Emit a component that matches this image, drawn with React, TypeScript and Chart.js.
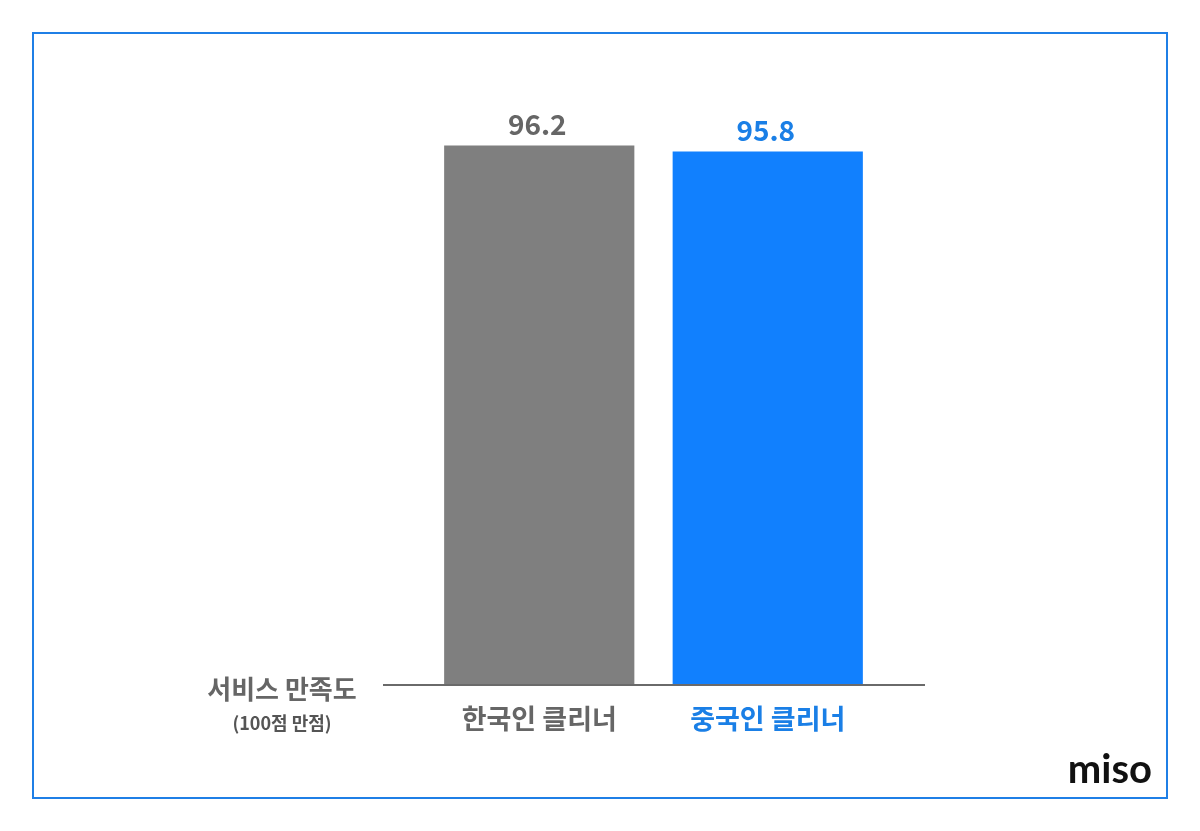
import React, { useEffect, useRef } from "react";
import { Chart, registerables } from "chart.js";

Chart.register(...registerables);

const categories = ["한국인 클리너", "중국인 클리너"];
const scores = [96.2, 95.8];
const axisMin = 60;
const axisMax = 100;
const axisTitle = "서비스 만족도";
const axisSubtitle = "(100점 만점)";
const brand = "miso";

const barColors = ["#7f7f7f", "#1180fe"];
const textColors = ["#666666", "#1a7fe6"];
const FONT = "'Noto Sans CJK KR', 'Noto Sans', sans-serif";

const valueLabelPlugin = {
  id: "valueLabels",
  afterDatasetsDraw(chart: any) {
    const { ctx } = chart;
    const meta = chart.getDatasetMeta(0);
    ctx.save();
    ctx.font = `bold 28px ${FONT}`;
    ctx.textAlign = "center";
    ctx.textBaseline = "bottom";
    meta.data.forEach((bar: any, i: number) => {
      ctx.fillStyle = textColors[i];
      ctx.fillText(String(scores[i]), bar.x - 2, bar.y - 7);
    });
    ctx.restore();
  },
};

const baselinePlugin = {
  id: "baseline",
  afterDatasetsDraw(chart: any) {
    const { ctx, chartArea, scales } = chart;
    const y = scales.y.getPixelForValue(axisMin);
    ctx.save();
    ctx.strokeStyle = "#6a6a6a";
    ctx.lineWidth = 2;
    ctx.beginPath();
    ctx.moveTo(chartArea.left - 42, y);
    ctx.lineTo(chartArea.right + 43, y);
    ctx.stroke();
    ctx.restore();
  },
};

export default function App() {
  const canvasRef = useRef<HTMLCanvasElement | null>(null);

  useEffect(() => {
    if (!canvasRef.current) return;
    const chart = new Chart(canvasRef.current, {
      type: "bar",
      data: {
        labels: categories,
        datasets: [
          {
            data: scores,
            backgroundColor: barColors,
            borderWidth: 0,
            barPercentage: 0.9,
            categoryPercentage: 0.925,
          },
        ],
      },
      options: {
        responsive: false,
        animation: false,
        devicePixelRatio: 1,
        layout: { padding: { left: 425, right: 318, top: 89, bottom: 0 } },
        plugins: { legend: { display: false }, tooltip: { enabled: false } },
        scales: {
          x: {
            grid: { display: false, drawTicks: false },
            border: { display: false },
            ticks: {
              padding: 18,
              color: (c: any) => textColors[c.index] || "#666",
              font: { family: FONT, size: 27, weight: "bold" },
            },
            afterFit: (scale: any) => {
              scale.height = 146;
            },
          },
          y: {
            display: false,
            min: axisMin,
            max: axisMax,
          },
        },
      },
      plugins: [baselinePlugin, valueLabelPlugin],
    });
    return () => chart.destroy();
  }, []);

  return (
    <div
      style={{
        position: "absolute",
        left: 0,
        top: 0,
        width: 1200,
        height: 831,
        background: "#ffffff",
        fontFamily: FONT,
      }}
    >
      <div
        style={{
          position: "absolute",
          left: 32,
          top: 32,
          width: 1136,
          height: 767,
          boxSizing: "border-box",
          border: "2px solid #1f7fe6",
        }}
      />
      <canvas ref={canvasRef} width={1200} height={831} style={{ position: "absolute", left: 0, top: 0 }} />
      <div
        style={{
          position: "absolute",
          left: 160,
          width: 244,
          top: 670,
          textAlign: "center",
          color: "#666666",
          fontWeight: 700,
          fontSize: 26,
          lineHeight: "36px",
        }}
      >
        {axisTitle}
      </div>
      <div
        style={{
          position: "absolute",
          left: 160,
          width: 244,
          top: 709,
          textAlign: "center",
          color: "#555555",
          fontWeight: 700,
          fontSize: 18,
          lineHeight: "26px",
        }}
      >
        {axisSubtitle}
      </div>
      <div
        style={{
          position: "absolute",
          left: 1040,
          width: 112,
          top: 740,
          textAlign: "right",
          color: "#111111",
          fontFamily: "Lato, sans-serif",
          fontWeight: 700,
          fontSize: 40,
          lineHeight: "56px",
        }}
      >
        {brand}
      </div>
    </div>
  );
}
